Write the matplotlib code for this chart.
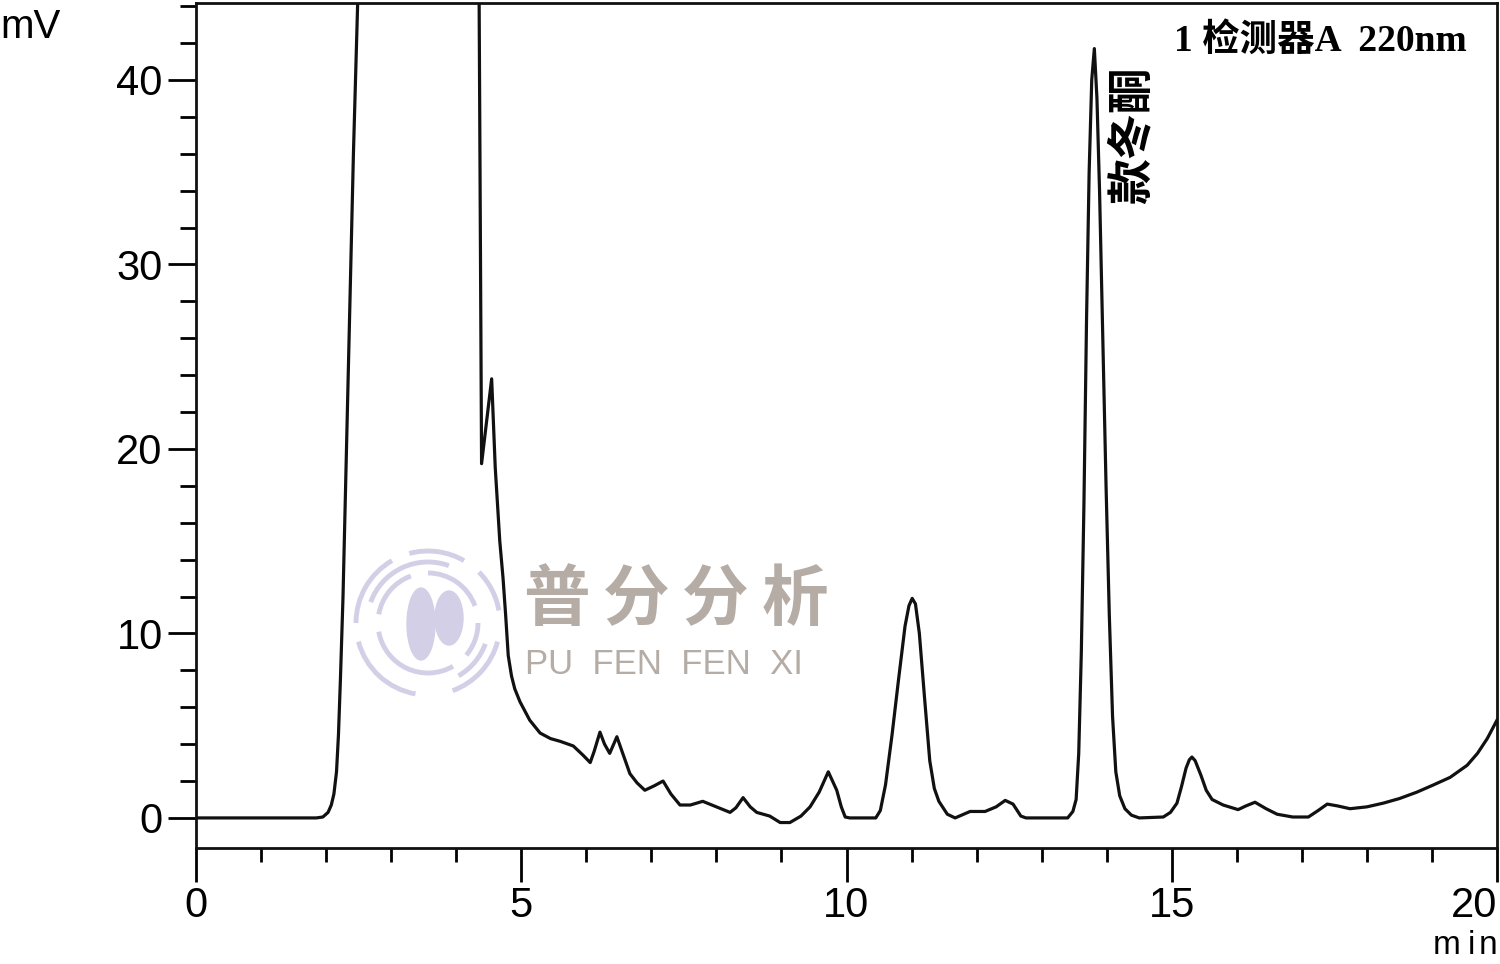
import numpy as np
import matplotlib
matplotlib.use("Agg")
import matplotlib.pyplot as plt
from matplotlib.patches import Arc, Ellipse

# chromatogram trace (time in min, signal in mV)
t = [0.0, 1.85, 1.95, 2.03, 2.08, 2.12, 2.16, 2.19, 2.22, 2.26, 2.30, 2.34, 2.38,
     2.42, 2.46, 2.50, 3.40, 4.35, 4.39, 4.545, 4.60, 4.67, 4.72, 4.76, 4.80,
     4.85, 4.90, 4.98, 5.13, 5.29, 5.45, 5.60, 5.80, 5.95, 6.06, 6.12, 6.21,
     6.28, 6.36, 6.47, 6.55, 6.67, 6.78, 6.90, 7.05, 7.18, 7.30, 7.44, 7.60,
     7.79, 8.00, 8.21, 8.30, 8.41, 8.52, 8.62, 8.82, 8.98, 9.13, 9.30, 9.44,
     9.58, 9.72, 9.85, 9.92, 9.98, 10.05, 10.45, 10.52, 10.60, 10.70, 10.80,
     10.90, 10.96, 11.01, 11.06, 11.12, 11.20, 11.28, 11.35, 11.42, 11.55,
     11.67, 11.80, 11.90, 12.13, 12.30, 12.44, 12.56, 12.68, 12.76, 13.40,
     13.48, 13.53, 13.57, 13.61, 13.65, 13.69, 13.73, 13.77, 13.81, 13.85,
     13.89, 13.94, 13.99, 14.04, 14.09, 14.14, 14.20, 14.28, 14.38, 14.50,
     14.87, 14.98, 15.08, 15.15, 15.22, 15.27, 15.31, 15.36, 15.45, 15.53,
     15.62, 15.79, 16.02, 16.14, 16.28, 16.45, 16.62, 16.86, 17.10, 17.25,
     17.39, 17.55, 17.74, 18.00, 18.25, 18.50, 18.77, 19.03, 19.28, 19.54,
     19.70, 19.85, 20.00]
mv = [0, 0, 0.05, 0.3, 0.7, 1.3, 2.5, 4.5, 7.5, 12, 18, 24, 30,
      36, 41, 46, 200, 46, 19.2, 23.8, 19.0, 15.0, 13.0, 11.0, 8.8,
      7.7, 7.0, 6.3, 5.3, 4.6, 4.3, 4.15, 3.9, 3.4, 3.0, 3.6, 4.65,
      4.0, 3.5, 4.4, 3.6, 2.4, 1.9, 1.5, 1.75, 2.0, 1.3, 0.7, 0.7,
      0.9, 0.6, 0.3, 0.55, 1.1, 0.6, 0.3, 0.1, -0.25, -0.25, 0.1, 0.6,
      1.4, 2.5, 1.5, 0.6, 0.05, 0, 0, 0.4, 1.8, 4.5, 7.5,
      10.4, 11.5, 11.9, 11.6, 10.0, 6.5, 3.1, 1.6, 0.9, 0.2,
      0.0, 0.2, 0.35, 0.35, 0.6, 0.95, 0.75, 0.1, 0, 0,
      0.35, 1.0, 3.5, 9, 17, 27, 35, 40, 41.7, 39,
      34, 26, 18, 11, 5.5, 2.5, 1.2, 0.5, 0.15, 0,
      0.05, 0.3, 0.8, 1.7, 2.7, 3.15, 3.3, 3.1, 2.3, 1.5,
      1.0, 0.7, 0.45, 0.65, 0.85, 0.5, 0.2, 0.05, 0.05, 0.4,
      0.75, 0.65, 0.5, 0.6, 0.8, 1.05, 1.4, 1.8, 2.2, 2.85,
      3.5, 4.3, 5.3]

x_major = [0, 5, 10, 15, 20]
y_major = [0, 10, 20, 30, 40]
peak_label = "款冬酮"
peak_pos = (14.40, 37.0)
detector = "1 检测器A  220nm"

fig = plt.figure(figsize=(15, 9.64), dpi=100)

# watermark layer in pixel coordinates, behind the plot
wm = fig.add_axes([0, 0, 1, 1], zorder=0)
wm.set_xlim(0, 1500)
wm.set_ylim(964, 0)
wm.axis("off")
lav = "#d3cfe6"
cx, cy = 428, 623
for r, segs in [(72, [(15, 70), (100, 165), (180, 240), (255, 300), (315, 350)]),
                (61, [(200, 290), (20, 60)]),
                (50, [(0, 40), (60, 170), (190, 250), (270, 340)])]:
    for a, b in segs:
        wm.add_patch(Arc((cx, cy), 2 * r, 2 * r, theta1=a, theta2=b, color=lav, lw=3.5))
wm.add_patch(Ellipse((421, 624), 28, 72, color=lav))
wm.add_patch(Ellipse((449, 618), 28, 54, color=lav))
brown = "#b5aca5"
for ch, x in zip("普分分析", [556, 636, 715, 795]):
    wm.text(x, 601, ch, fontsize=48, color=brown, ha="center", va="center",
            family=["Noto Sans CJK SC"], fontweight="bold")
wm.text(525, 665, "PU  FEN  FEN  XI", fontsize=25, color=brown, ha="left",
        va="center", family=["Liberation Sans"])

ax = fig.add_axes([196 / 1500, 116 / 964, 1301 / 1500, 845 / 964], zorder=1)
ax.set_facecolor("none")
ax.plot(t, mv, color="#111111", lw=2.3, solid_joinstyle="round")

ax.set_xlim(0, 20)
ax.set_ylim(-1.63, 44.17)
ax.set_xticks(x_major)
ax.set_xticks(np.arange(0, 21, 1), minor=True)
ax.set_yticks(y_major)
ax.set_yticks(np.arange(0, 45, 2), minor=True)
ax.set_xticklabels([str(v) for v in x_major], family="Liberation Sans")
ax.set_yticklabels([str(v) for v in y_major], family="Liberation Sans")
ax.tick_params(axis="x", which="major", length=24.5, width=2, pad=3, labelsize=30)
ax.tick_params(axis="x", which="minor", length=10, width=2)
ax.tick_params(axis="y", which="major", length=20, width=2, pad=4, labelsize=30)
ax.tick_params(axis="y", which="minor", length=11.5, width=2)
ax.xaxis.get_major_ticks()[-1].label1.set_horizontalalignment("right")
for s in ax.spines.values():
    s.set_linewidth(2)
    s.set_color("#111111")

ax.text(peak_pos[0], peak_pos[1], peak_label, rotation=90, fontsize=33,
        fontweight="bold", ha="center", va="center", family=["Noto Sans CJK SC"])
ax.text(0.9765, 0.955, detector, transform=ax.transAxes, fontsize=27,
        fontweight="bold", ha="right", va="center",
        family=["Liberation Serif", "Noto Sans CJK SC"])

fig.text(0.0, 1 - 27 / 964, "mV", fontsize=29, ha="left", va="center",
         family="Liberation Sans")
for ch, x in zip("min", [1447, 1471, 1488]):
    fig.text(x / 1500, 1 - 946 / 964, ch, fontsize=24, ha="center", va="center",
             family="Liberation Sans")

fig.savefig("out.png", dpi=100)
